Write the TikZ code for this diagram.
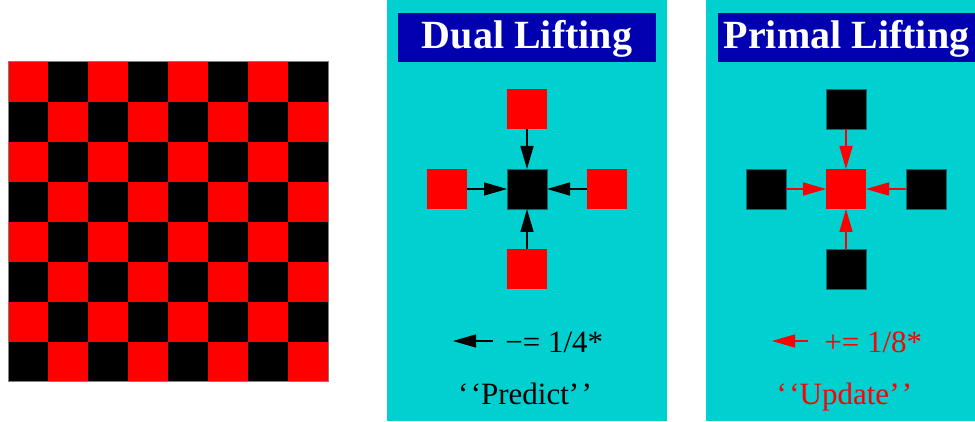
\documentclass[tikz,border=0pt]{standalone}
\usepackage{fontspec}
\setmainfont{Liberation Serif}
\usetikzlibrary{arrows.meta}
\definecolor{panelcyan}{RGB}{0,208,208}
\definecolor{titleblue}{RGB}{0,0,176}
\definecolor{edgeteal}{RGB}{0,110,110}
\tikzset{
  cell/.style={minimum size=20pt, inner sep=0pt, outer sep=0pt},
  redcell/.style={cell, fill=red},
  blackcell/.style={cell, fill=black, draw=edgeteal, line width=0.4pt},
  lift/.style={-{Triangle[length=11.5pt,width=6.5pt]}, line width=0.7pt},
  titlebox/.style={fill=titleblue, text=white, inner sep=0pt,
    minimum height=24.5pt, text height=14.5pt, text depth=3pt,
    font=\fontsize{20}{24}\selectfont\bfseries},
  legend/.style={inner sep=0pt, font=\fontsize{15.5}{18}\selectfont}
}
\newcommand\openq{‘\kern1.2pt‘}
\newcommand\closeq{’\kern1.2pt’}
\begin{document}
\begin{tikzpicture}[x=0.5pt,y=-0.5pt]
\useasboundingbox (0,0) rectangle (975,422);
% checkerboard
\fill[black] (8,62) rectangle (328,382);
\foreach \r in {0,...,7}
  \foreach \c in {0,...,3} {
    \pgfmathtruncatemacro\col{2*\c+mod(\r,2)}
    \fill[red] ({8+40*\col},{62+40*\r}) rectangle ++(40,40);
  }
\draw[gray, line width=0.5pt] (8,62) rectangle (328,382);
% dual lifting panel
\fill[panelcyan] (387,0) rectangle (667,421);
\node[titlebox, minimum width=129pt] (dualtitle) at (527,37.5) {Dual Lifting};
\node[blackcell] (dualmid) at (527,189) {};
\node[redcell] (dualtop) at (527,109) {};
\node[redcell] (dualbot) at (527,269) {};
\node[redcell] (dualleft) at (447,189) {};
\node[redcell] (dualright) at (607,189) {};
\draw[lift] (dualtop) -- (dualmid);
\draw[lift] (dualbot) -- (dualmid);
\draw[lift] (dualleft) -- (dualmid);
\draw[lift] (dualright) -- (dualmid);
\coordinate (dualtail) at (493,341);
\coordinate (dualtip) at (453,341);
\draw[lift] (dualtail) -- (dualtip);
\node[legend, anchor=base west] (dualrule) at (505,353) {−= 1/4*};
\node[legend, anchor=base] (dualname) at (525,405) {\openq Predict\closeq};
% primal lifting panel
\fill[panelcyan] (706,0) rectangle (975,421);
\node[titlebox, minimum width=128.5pt] (primtitle) at (846.5,37.5) {Primal Lifting};
\node[redcell] (primmid) at (846,189) {};
\node[blackcell] (primtop) at (846,109) {};
\node[blackcell] (primbot) at (846,269) {};
\node[blackcell] (primleft) at (766,189) {};
\node[blackcell] (primright) at (926,189) {};
\draw[lift, red] (primtop) -- (primmid);
\draw[lift, red] (primbot) -- (primmid);
\draw[lift, red] (primleft) -- (primmid);
\draw[lift, red] (primright) -- (primmid);
\coordinate (primtail) at (808,341);
\coordinate (primtip) at (772,341);
\draw[lift, red] (primtail) -- (primtip);
\node[legend, anchor=base west, text=red] (primrule) at (824,353) {+= 1/8*};
\node[legend, anchor=base, text=red] (primname) at (844.5,405) {\openq Update\closeq};
\end{tikzpicture}
\end{document}
